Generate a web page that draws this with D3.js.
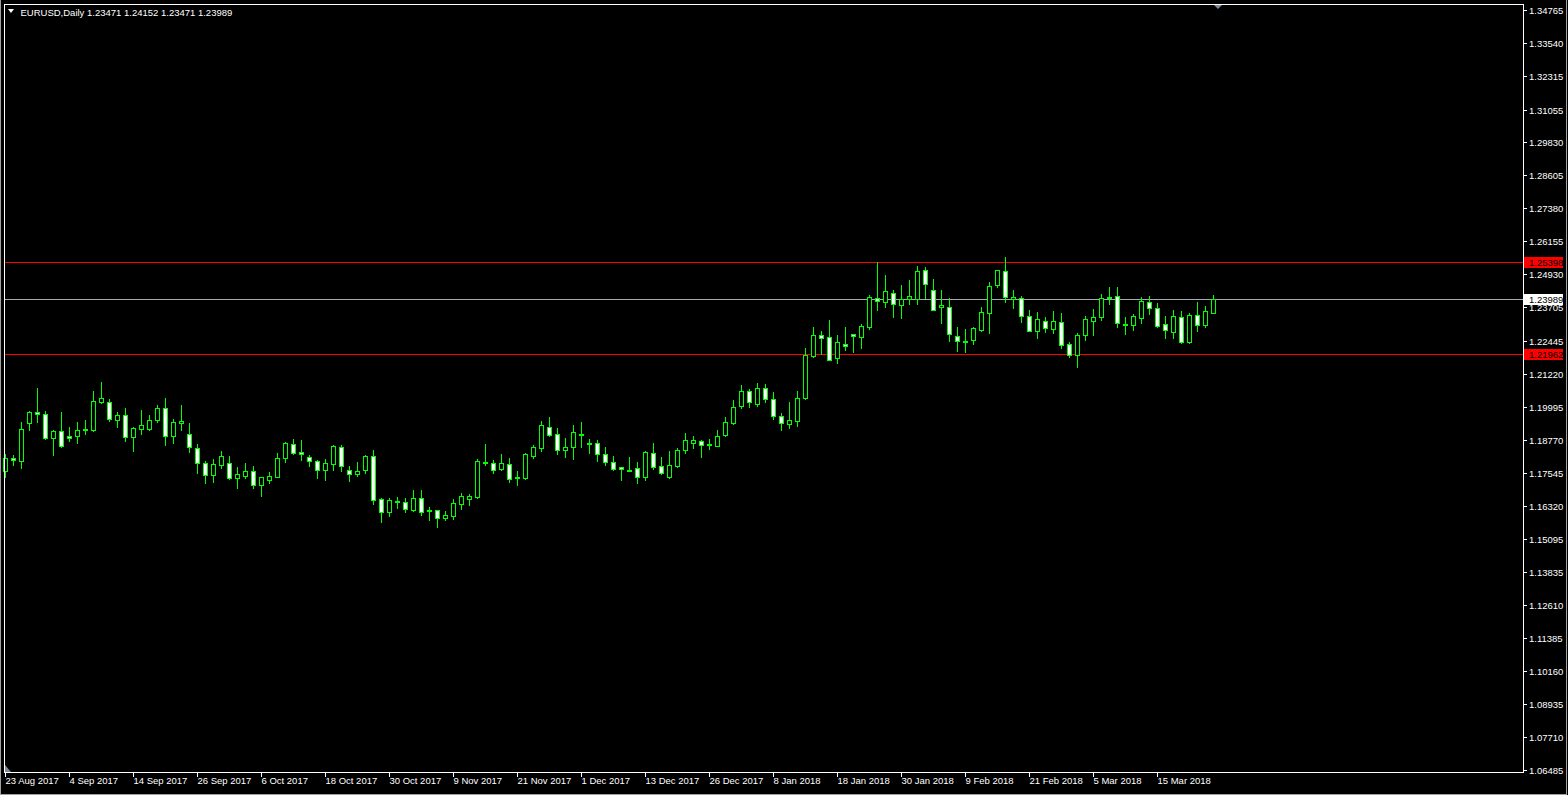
<!DOCTYPE html>
<html><head><meta charset="utf-8">
<script src="https://cdn.jsdelivr.net/npm/d3@7"></script>
<style>html,body{margin:0;padding:0;background:#000;overflow:hidden}svg{display:block}text{font-family:"Liberation Sans",Arial,sans-serif;}</style>
</head><body><svg id="c" width="1568" height="795"></svg>
<script>
const symbolTitle = "EURUSD,Daily";
const dates = ["2017-08-23","2017-08-24","2017-08-25","2017-08-28","2017-08-29","2017-08-30","2017-08-31",
"2017-09-01","2017-09-04","2017-09-05","2017-09-06","2017-09-07","2017-09-08","2017-09-11","2017-09-12","2017-09-13","2017-09-14","2017-09-15","2017-09-18","2017-09-19","2017-09-20","2017-09-21","2017-09-22","2017-09-25","2017-09-26","2017-09-27","2017-09-28","2017-09-29",
"2017-10-02","2017-10-03","2017-10-04","2017-10-05","2017-10-06","2017-10-09","2017-10-10","2017-10-11","2017-10-12","2017-10-13","2017-10-16","2017-10-17","2017-10-18","2017-10-19","2017-10-20","2017-10-23","2017-10-24","2017-10-25","2017-10-26","2017-10-27","2017-10-30","2017-10-31",
"2017-11-01","2017-11-02","2017-11-03","2017-11-06","2017-11-07","2017-11-08","2017-11-09","2017-11-10","2017-11-13","2017-11-14","2017-11-15","2017-11-16","2017-11-17","2017-11-20","2017-11-21","2017-11-22","2017-11-23","2017-11-24","2017-11-27","2017-11-28","2017-11-29","2017-11-30",
"2017-12-01","2017-12-04","2017-12-05","2017-12-06","2017-12-07","2017-12-08","2017-12-11","2017-12-12","2017-12-13","2017-12-14","2017-12-15","2017-12-18","2017-12-19","2017-12-20","2017-12-21","2017-12-22","2017-12-26","2017-12-27","2017-12-28","2017-12-29",
"2018-01-02","2018-01-03","2018-01-04","2018-01-05","2018-01-08","2018-01-09","2018-01-10","2018-01-11","2018-01-12","2018-01-15","2018-01-16","2018-01-17","2018-01-18","2018-01-19","2018-01-22","2018-01-23","2018-01-24","2018-01-25","2018-01-26","2018-01-29","2018-01-30","2018-01-31",
"2018-02-01","2018-02-02","2018-02-05","2018-02-06","2018-02-07","2018-02-08","2018-02-09","2018-02-12","2018-02-13","2018-02-14","2018-02-15","2018-02-16","2018-02-19","2018-02-20","2018-02-21","2018-02-22","2018-02-23","2018-02-26","2018-02-27","2018-02-28",
"2018-03-01","2018-03-02","2018-03-05","2018-03-06","2018-03-07","2018-03-08","2018-03-09","2018-03-12","2018-03-13","2018-03-14","2018-03-15","2018-03-16","2018-03-19","2018-03-20","2018-03-21","2018-03-22","2018-03-23","2018-03-26"];

const open = [1.17620,1.18081,1.17992,1.19406,1.19792,1.19718,1.18825,1.19086,1.18900,1.18922,
1.19123,1.19134,1.20187,1.20164,1.19517,1.19681,1.18862,1.19182,1.19182,1.19517,
1.19941,1.18900,1.19406,1.18974,1.18453,1.17895,1.17460,1.17843,1.17895,1.17337,
1.17434,1.17598,1.17088,1.17285,1.17397,1.18081,1.18602,1.18304,1.18118,1.17970,
1.17657,1.17880,1.18502,1.17635,1.17486,1.17635,1.18156,1.16556,1.16072,1.16482,
1.16444,1.16158,1.16593,1.16132,1.16147,1.15872,1.15946,1.16392,1.16556,1.16642,
1.17944,1.17895,1.17683,1.17869,1.17348,1.17360,1.18178,1.18476,1.19234,1.18974,
1.18401,1.18490,1.18974,1.18639,1.18639,1.18230,1.17932,1.17746,1.17635,1.17709,
1.17386,1.18267,1.17784,1.17386,1.17795,1.18401,1.18662,1.18736,1.18602,1.18550,
1.18959,1.19406,1.20038,1.20574,1.20112,1.20685,1.20276,1.19666,1.19346,1.19458,
1.20313,1.21887,1.22657,1.22582,1.21824,1.22322,1.22694,1.22606,1.22977,1.24056,
1.23907,1.24219,1.23795,1.23996,1.24018,1.25075,1.24330,1.23698,1.23698,1.22627,
1.22433,1.22471,1.22854,1.23498,1.24517,1.25038,1.23996,1.24033,1.23364,1.22828,
1.23196,1.22902,1.23140,1.22322,1.21935,1.22679,1.23200,1.23346,1.24070,1.24108,
1.23070,1.23055,1.23312,1.23884,1.23661,1.23070,1.22791,1.23326,1.22396,1.23401,
1.23029,1.23471];
const high = [1.18241,1.18204,1.19420,1.19841,1.20685,1.19841,1.19134,1.19804,1.19246,1.19432,
1.19495,1.20585,1.20920,1.20276,1.19792,1.19952,1.19257,1.19878,1.19692,1.20064,
1.20324,1.19543,1.20064,1.19394,1.18602,1.17981,1.18055,1.18353,1.18167,1.17746,
1.17906,1.17795,1.17386,1.17560,1.18267,1.18688,1.18810,1.18762,1.18204,1.18007,
1.18066,1.18576,1.18576,1.17795,1.17943,1.18193,1.18390,1.16604,1.16604,1.16630,
1.16593,1.16902,1.16902,1.16270,1.16169,1.16121,1.16556,1.16790,1.16753,1.18044,
1.18613,1.18018,1.18252,1.18092,1.17609,1.18290,1.18576,1.19469,1.19618,1.19197,
1.18836,1.19320,1.19432,1.18799,1.18751,1.18502,1.18156,1.17769,1.18130,1.17944,
1.18342,1.18650,1.18130,1.18353,1.18476,1.19022,1.18911,1.18762,1.18799,1.19123,
1.19618,1.20250,1.20808,1.20659,1.20882,1.20845,1.20536,1.19766,1.20176,1.20585,
1.22173,1.22966,1.22817,1.23226,1.22668,1.22966,1.22705,1.23077,1.24156,1.25398,
1.24918,1.24342,1.24528,1.24714,1.25234,1.25186,1.24751,1.24342,1.24044,1.22966,
1.22892,1.22977,1.23710,1.24640,1.25086,1.25570,1.24342,1.24119,1.23587,1.23524,
1.23355,1.23561,1.23486,1.22408,1.22742,1.23375,1.23635,1.24193,1.24465,1.24465,
1.23338,1.23442,1.24082,1.24119,1.23847,1.23375,1.23598,1.23561,1.23474,1.23896,
1.23747,1.24152];
const low = [1.17397,1.17832,1.17732,1.19134,1.19443,1.18799,1.18204,1.18490,1.18736,1.18650,
1.18974,1.19097,1.20150,1.19480,1.19257,1.18736,1.18364,1.18985,1.19134,1.19443,
1.18576,1.18650,1.19134,1.18304,1.17546,1.17174,1.17211,1.17732,1.17300,1.16965,
1.17360,1.16988,1.16690,1.17162,1.17386,1.17955,1.18230,1.18018,1.17795,1.17360,
1.17274,1.17657,1.17620,1.17248,1.17412,1.17523,1.16381,1.15723,1.15946,1.16244,
1.16084,1.16132,1.15972,1.15786,1.15537,1.15786,1.15823,1.16206,1.16344,1.16593,
1.17832,1.17546,1.17646,1.17211,1.17088,1.17311,1.18092,1.18364,1.18900,1.18252,
1.18130,1.18055,1.18502,1.18290,1.17981,1.17821,1.17646,1.17274,1.17609,1.17162,
1.17274,1.17694,1.17497,1.17348,1.17758,1.18278,1.18476,1.18141,1.18427,1.18528,
1.18922,1.19346,1.19964,1.20001,1.20038,1.20187,1.19554,1.19145,1.19220,1.19294,
1.20287,1.21850,1.21950,1.21727,1.21638,1.22110,1.22036,1.22196,1.22902,1.23598,
1.23698,1.23347,1.23310,1.23821,1.23821,1.24056,1.23598,1.23126,1.22427,1.22084,
1.22047,1.22344,1.22828,1.22754,1.24465,1.23907,1.23684,1.23163,1.22806,1.22568,
1.22791,1.22742,1.22184,1.21861,1.21489,1.22482,1.22679,1.23226,1.23821,1.22977,
1.22716,1.22865,1.23126,1.23446,1.22966,1.22568,1.22556,1.22389,1.22381,1.22828,
1.22966,1.23471];
const close = [1.18081,1.18007,1.19160,1.19792,1.19718,1.18825,1.19086,1.18528,1.18825,1.19123,
1.19160,1.20202,1.20313,1.19532,1.19681,1.18862,1.19208,1.19309,1.19495,1.19941,
1.18900,1.19420,1.19469,1.18490,1.17895,1.17449,1.17858,1.18167,1.17337,1.17497,
1.17598,1.17077,1.17386,1.17423,1.18092,1.18650,1.18290,1.18230,1.17970,1.17657,
1.17895,1.18528,1.17806,1.17486,1.17598,1.18156,1.16541,1.16072,1.16519,1.16504,
1.16206,1.16593,1.16095,1.16147,1.15872,1.15961,1.16418,1.16679,1.16679,1.17981,
1.17962,1.17646,1.17906,1.17322,1.17367,1.18252,1.18502,1.19320,1.18959,1.18401,
1.18490,1.19048,1.18985,1.18650,1.18252,1.17955,1.17694,1.17672,1.17646,1.17397,
1.18304,1.17769,1.17546,1.17821,1.18379,1.18751,1.18751,1.18587,1.18613,1.18900,
1.19420,1.19978,1.20585,1.20164,1.20685,1.20298,1.19666,1.19383,1.19495,1.20313,
1.21913,1.22657,1.22545,1.21749,1.22396,1.22248,1.22619,1.22993,1.24070,1.23922,
1.24293,1.23810,1.24018,1.24108,1.25035,1.24551,1.23609,1.23773,1.22687,1.22456,
1.22445,1.22917,1.23524,1.24491,1.25075,1.24093,1.24070,1.23364,1.22828,1.23271,
1.22940,1.23189,1.22307,1.21935,1.22657,1.23252,1.23326,1.24033,1.24082,1.23103,
1.23082,1.23364,1.23922,1.23684,1.23014,1.22865,1.23364,1.22396,1.23401,1.23029,
1.23568,1.23989];

const xTickLabels = ["23 Aug 2017","4 Sep 2017","14 Sep 2017","26 Sep 2017","6 Oct 2017","18 Oct 2017","30 Oct 2017","9 Nov 2017","21 Nov 2017","1 Dec 2017","13 Dec 2017","26 Dec 2017","8 Jan 2018","18 Jan 2018","30 Jan 2018","9 Feb 2018","21 Feb 2018","5 Mar 2018","15 Mar 2018"];
const yTickLabels = ["1.34765","1.33540","1.32315","1.31055","1.29830","1.28605","1.27380","1.26155","1.24930","1.23705","1.22445","1.21220","1.19995","1.18770","1.17545","1.16320","1.15095","1.13835","1.12610","1.11385","1.10160","1.08935","1.07710","1.06485"];
const levelLines = [1.25398, 1.21962];
const bidPrice = 1.23989;

const svg = d3.select("#c");
svg.append("rect").attr("width",1568).attr("height",795).attr("fill","#000");
const plot = {l:4, t:4, r:1523, b:772};
const N = dates.length;
const dateIdx = d3.range(N);
const x = d3.scaleBand().domain(dateIdx).range([1, 1 + 8*N]);
const cx = i => x(i) + 4;
const y = d3.scaleLinear().domain([1.06411, 1.34982]).range([plot.b, plot.t]).interpolate(d3.interpolateRound);

const LIME = "#00ff00";
const g = svg.append("g").attr("shape-rendering","crispEdges");

// window outer border
g.append("path").attr("d","M0.5,0V794.5H1566.5V0").attr("fill","none").attr("stroke","#a0a0a0");

// level lines and bid line
g.selectAll("line.lvl").data(levelLines).join("line").attr("class","lvl")
  .attr("x1", plot.l).attr("x2", plot.r).attr("y1", d=>y(d)+0.5).attr("y2", d=>y(d)+0.5)
  .attr("stroke","#ff0000").attr("stroke-width",1);
g.append("line").attr("x1", plot.l).attr("x2", plot.r).attr("y1", y(bidPrice)+0.5).attr("y2", y(bidPrice)+0.5)
  .attr("stroke","#a7aab0").attr("stroke-width",1);

// candles
const cg = g.append("g");
cg.selectAll("path.wick").data(dateIdx).join("path").attr("class","wick")
  .attr("d", i => `M${cx(i)+0.5},${y(high[i])}V${y(low[i])+1}`)
  .attr("stroke", LIME).attr("stroke-width",1).attr("fill","none");
cg.selectAll("path.body").data(dateIdx).join("path").attr("class","body")
  .attr("d", i => {
    const t = y(Math.max(open[i], close[i]));
    let b = y(Math.min(open[i], close[i]));
    if (b < t + 1) b = t + 1;
    const x0 = cx(i) - 1.5, x1 = cx(i) + 2.5;
    return `M${x0},${t+0.5}H${x1}V${b+0.5}H${x0}Z`;
  })
  .attr("fill", i => close[i] < open[i] ? "#ffffff" : "#000000")
  .attr("stroke", LIME).attr("stroke-width",1);

// frame
g.append("path").attr("d", `M${plot.l+0.5},${plot.t+0.5}H${plot.r+0.5}V${plot.b+0.5}H${plot.l+0.5}Z`)
  .attr("fill","none").attr("stroke","#ffffff");

// y axis
const yAxis = d3.axisRight(y).tickValues(yTickLabels.map(Number)).tickSize(4).tickPadding(2)
  .tickFormat((d,k) => yTickLabels[k]);
const ya = svg.append("g").attr("transform", `translate(${plot.r},0)`).call(yAxis);
ya.select(".domain").remove();
ya.selectAll(".tick line").attr("stroke","#fff").attr("shape-rendering","crispEdges");
ya.selectAll(".tick text").attr("fill","#fff").attr("font-size","9.5px").attr("font-family","Liberation Sans, Arial, sans-serif").attr("x",6);

// x axis
const xs = d3.scaleLinear().domain([0, N-1]).range([cx(0), cx(N-1)]);
const xTickIdx = xTickLabels.map((_,k) => k*8);
const xAxis = d3.axisBottom(xs).tickValues(xTickIdx).tickSize(5).tickFormat((d,k)=>xTickLabels[k]);
const xa = svg.append("g").attr("transform", `translate(0,${plot.b})`).call(xAxis);
xa.select(".domain").remove();
xa.selectAll(".tick line").attr("stroke","#fff").attr("shape-rendering","crispEdges");
xa.selectAll(".tick text").attr("fill","#fff").attr("font-size","9.5px").attr("font-family","Liberation Sans, Arial, sans-serif")
  .attr("text-anchor","start").attr("x",0).attr("dy","0.6em").attr("y",6);

// price labels
function priceBox(v, bg, fg){
  const yy = y(v);
  const bx = svg.append("g");
  bx.append("rect").attr("x", plot.r+1).attr("y", yy-5).attr("width", 39).attr("height", 11).attr("fill", bg).attr("shape-rendering","crispEdges");
  bx.append("text").attr("x", plot.r+6).attr("y", yy+0.5).attr("dy","0.35em").attr("fill", fg)
    .attr("font-size","9.5px").text(v.toFixed(5));
}
levelLines.forEach(v => priceBox(v, "#ff0000", "#000000"));
priceBox(bidPrice, "#ffffff", "#000000");

// title
svg.append("path").attr("d","M8,9H14L11,13Z").attr("fill","#fff");
const last = N-1;
svg.append("text").attr("x",20.5).attr("y",15.5).attr("fill","#fff").attr("font-size","9.5px")
  .text(`${symbolTitle}  ${open[last].toFixed(5)} ${high[last].toFixed(5)} ${low[last].toFixed(5)} ${close[last].toFixed(5)}`);

// chart shift marker and corner marker
svg.append("path").attr("d", `M${cx(N-1)+1},5H${cx(N-1)+9}L${cx(N-1)+5},9Z`).attr("fill","#7f8c99");
svg.append("path").attr("d", `M5,765L5,772L11,772Z`).attr("fill","#7f8c99");
</script>
</body></html>
